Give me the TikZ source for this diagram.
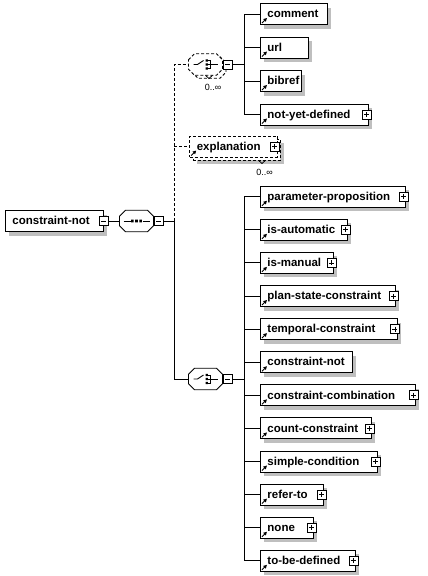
\documentclass[tikz,border=0pt]{standalone}
\usepackage{fontspec}
\setmainfont{Liberation Sans}
\usetikzlibrary{positioning,shadows,arrows.meta}

\begin{document}
\begin{tikzpicture}[
  x=1pt, y=-1pt, line width=0.9pt,
  grayshadow/.style={drop shadow={shadow xshift=4pt, shadow yshift=-4pt, fill=black!25, opacity=1}},
  opt/.style={dash pattern=on 3pt off 2pt},
  box/.style={rectangle, draw, fill=white, anchor=west, minimum height=21pt, inner xsep=7pt, text width=#1, align=left, text height=9.5pt, text depth=2pt, font=\fontsize{11.5}{13}\selectfont\bfseries},
  root/.style={box=#1, grayshadow},
  refarrow/.style={path picture={\draw[solid, line width=0.9pt, -{Triangle[length=3.5pt,width=3.5pt]}] ([shift={(1.5pt,1.5pt)}]path picture bounding box.south west) -- ++(5pt,5pt);}},
  elem/.style={box=#1, grayshadow, refarrow},
  optelem/.style={box=#1, opt, refarrow},
  backbox/.style={rectangle, draw, fill=white, anchor=west, minimum height=21pt, minimum width=#1, inner sep=0pt},
  pmbox/.style={rectangle, draw, solid, fill=white, line width=0.8pt, minimum size=9pt, inner sep=0pt},
  collapsebox/.style={pmbox, path picture={\draw ([xshift=2pt]path picture bounding box.west) -- ([xshift=-2pt]path picture bounding box.east);}},
  expandbox/.style={pmbox, path picture={\draw ([xshift=2pt]path picture bounding box.west) -- ([xshift=-2pt]path picture bounding box.east) ([yshift=-2pt]path picture bounding box.north) -- ([yshift=2pt]path picture bounding box.south);}},
  comp/.style={rectangle, minimum width=34pt, minimum height=21.5pt, inner sep=0pt},
  octagon/.pic={\path[pic actions] (-17pt,4.75pt) -- (-11pt,10.75pt) -- (11pt,10.75pt) -- (17pt,4.75pt)
      -- (17pt,-4.75pt) -- (11pt,-10.75pt) -- (-11pt,-10.75pt) -- (-17pt,-4.75pt) -- cycle;},
  seqsym/.pic={
    \draw (-13pt,0) -- (-6pt,0) (6pt,0) -- (13pt,0);
    \fill (-5.4pt,-1.3pt) rectangle (-2.8pt,1.3pt) (-1.3pt,-1.3pt) rectangle (1.3pt,1.3pt) (2.8pt,-1.3pt) rectangle (5.4pt,1.3pt);},
  choicesym/.pic={
    \draw (-12pt,0) -- (-8pt,0) -- (-2pt,4pt);
    \fill (0,2.8pt) rectangle (2.4pt,5.2pt) (0,-1.2pt) rectangle (2.4pt,1.2pt) (0,-5.2pt) rectangle (2.4pt,-2.8pt);
    \draw (2.4pt,4pt) -| (5pt,-4pt) -- (2.4pt,-4pt) (2.4pt,0) -- (12pt,0);},
  occurs/.style={font=\fontsize{9}{10}\selectfont, inner sep=0pt}
]
\useasboundingbox (0,0) rectangle (428,576);

% root and sequence
\node[root=84pt] (root) at (5,221) {constraint-not};
\node[collapsebox] (rootm) at (root.east) {};
\pic[draw, fill=white, grayshadow] at (136.5,221) {octagon};
\pic at (136.5,221) {seqsym};
\node[comp] (seq) at (136.5,221) {};
\node[collapsebox, right=0pt of seq] (seqm) {};
\coordinate (seqbus) at (174,221);

% optional choice
\pic[draw, opt, fill=white, grayshadow] at (209,67.5) {octagon};
\pic[draw, opt, fill=white] at (205.5,64.5) {octagon};
\pic at (205.5,64.5) {choicesym};
\node[comp] (ch1) at (205.5,64.5) {};
\draw[line width=0.8pt] (205.5,75.3) -- (209,78.5) -- (212.5,75.3);
\node[collapsebox, right=0pt of ch1] (ch1m) {};
\node[occurs] (occ1) at (213,87) {0..∞};
\coordinate (c1bus) at (244,64.5);

\node[elem=53pt] (comment) at (260,14) {comment};
\node[elem=34pt] (url) at (260,47.5) {url};
\node[elem=27pt] (bibref) at (260,81) {bibref};
\node[elem=94pt] (nyd) at (260,114.5) {not-yet-defined};
\node[expandbox] at ([xshift=-2.5pt]nyd.east) {};

% explanation
\node[backbox=87.4pt, opt, grayshadow] (explback) at (192.5,149.8) {};
\node[optelem=73.4pt] (expl) at (189.3,146.5) {explanation};
\draw[line width=0.8pt] (258.5,160.3) -- (262,163.5) -- (265.5,160.3);
\node[expandbox] at ([xshift=-3pt]expl.east) {};
\node[occurs] (occ2) at (264.5,172) {0..∞};

% choice
\pic[draw, fill=white, grayshadow] at (205.5,379) {octagon};
\pic at (205.5,379) {choicesym};
\node[comp] (ch2) at (205.5,379) {};
\node[collapsebox, right=0pt of ch2] (ch2m) {};
\coordinate (c2bus) at (244,379);

\node[elem=131pt] (param) at (260,196.7) {parameter-proposition};
\node[expandbox] at ([xshift=-2.5pt]param.east) {};
\node[elem=73pt] (auto) at (260,229.8) {is-automatic};
\node[expandbox] at ([xshift=-2.5pt]auto.east) {};
\node[elem=59pt] (manual) at (260,262.9) {is-manual};
\node[expandbox] at ([xshift=-2.5pt]manual.east) {};
\node[elem=121pt] (plan) at (260,296) {plan-state-constraint};
\node[expandbox] at ([xshift=-2.5pt]plan.east) {};
\node[elem=122.5pt] (temporal) at (260,329.1) {temporal-constraint};
\node[expandbox] at ([xshift=-2.5pt]temporal.east) {};
\node[elem=78pt] (cnot) at (260,362.2) {constraint-not};
\node[elem=141pt] (ccomb) at (260,395.3) {constraint-combination};
\node[expandbox] at ([xshift=-2.5pt]ccomb.east) {};
\node[elem=97pt] (count) at (260,428.4) {count-constraint};
\node[expandbox] at ([xshift=-2.5pt]count.east) {};
\node[elem=103pt] (simple) at (260,461.5) {simple-condition};
\node[expandbox] at ([xshift=-2.5pt]simple.east) {};
\node[elem=49pt] (refer) at (260,494.6) {refer-to};
\node[expandbox] at ([xshift=-2.5pt]refer.east) {};
\node[elem=39pt] (none) at (260,527.7) {none};
\node[expandbox] at ([xshift=-2.5pt]none.east) {};
\node[elem=81pt] (tbd) at (260,560.8) {to-be-defined};
\node[expandbox] at ([xshift=-2.5pt]tbd.east) {};

% lines
\draw (rootm.east) -- (seq.west);
\draw (seqm.east) -- (seqbus);
\draw[opt] (seqbus) |- (ch1.west);
\draw[opt] (seqbus |- expl.west) -- (expl.west);
\draw (seqbus) |- (ch2.west);

\draw (ch1m.east) -- (c1bus);
\draw (c1bus) |- (comment.west);
\draw (c1bus) |- (url.west);
\draw (c1bus) |- (bibref.west);
\draw (c1bus) |- (nyd.west);

\draw (ch2m.east) -- (c2bus);
\draw (c2bus) |- (param.west);
\draw (c2bus) |- (auto.west);
\draw (c2bus) |- (manual.west);
\draw (c2bus) |- (plan.west);
\draw (c2bus) |- (temporal.west);
\draw (c2bus) |- (cnot.west);
\draw (c2bus) |- (ccomb.west);
\draw (c2bus) |- (count.west);
\draw (c2bus) |- (simple.west);
\draw (c2bus) |- (refer.west);
\draw (c2bus) |- (none.west);
\draw (c2bus) |- (tbd.west);
\end{tikzpicture}
\end{document}
